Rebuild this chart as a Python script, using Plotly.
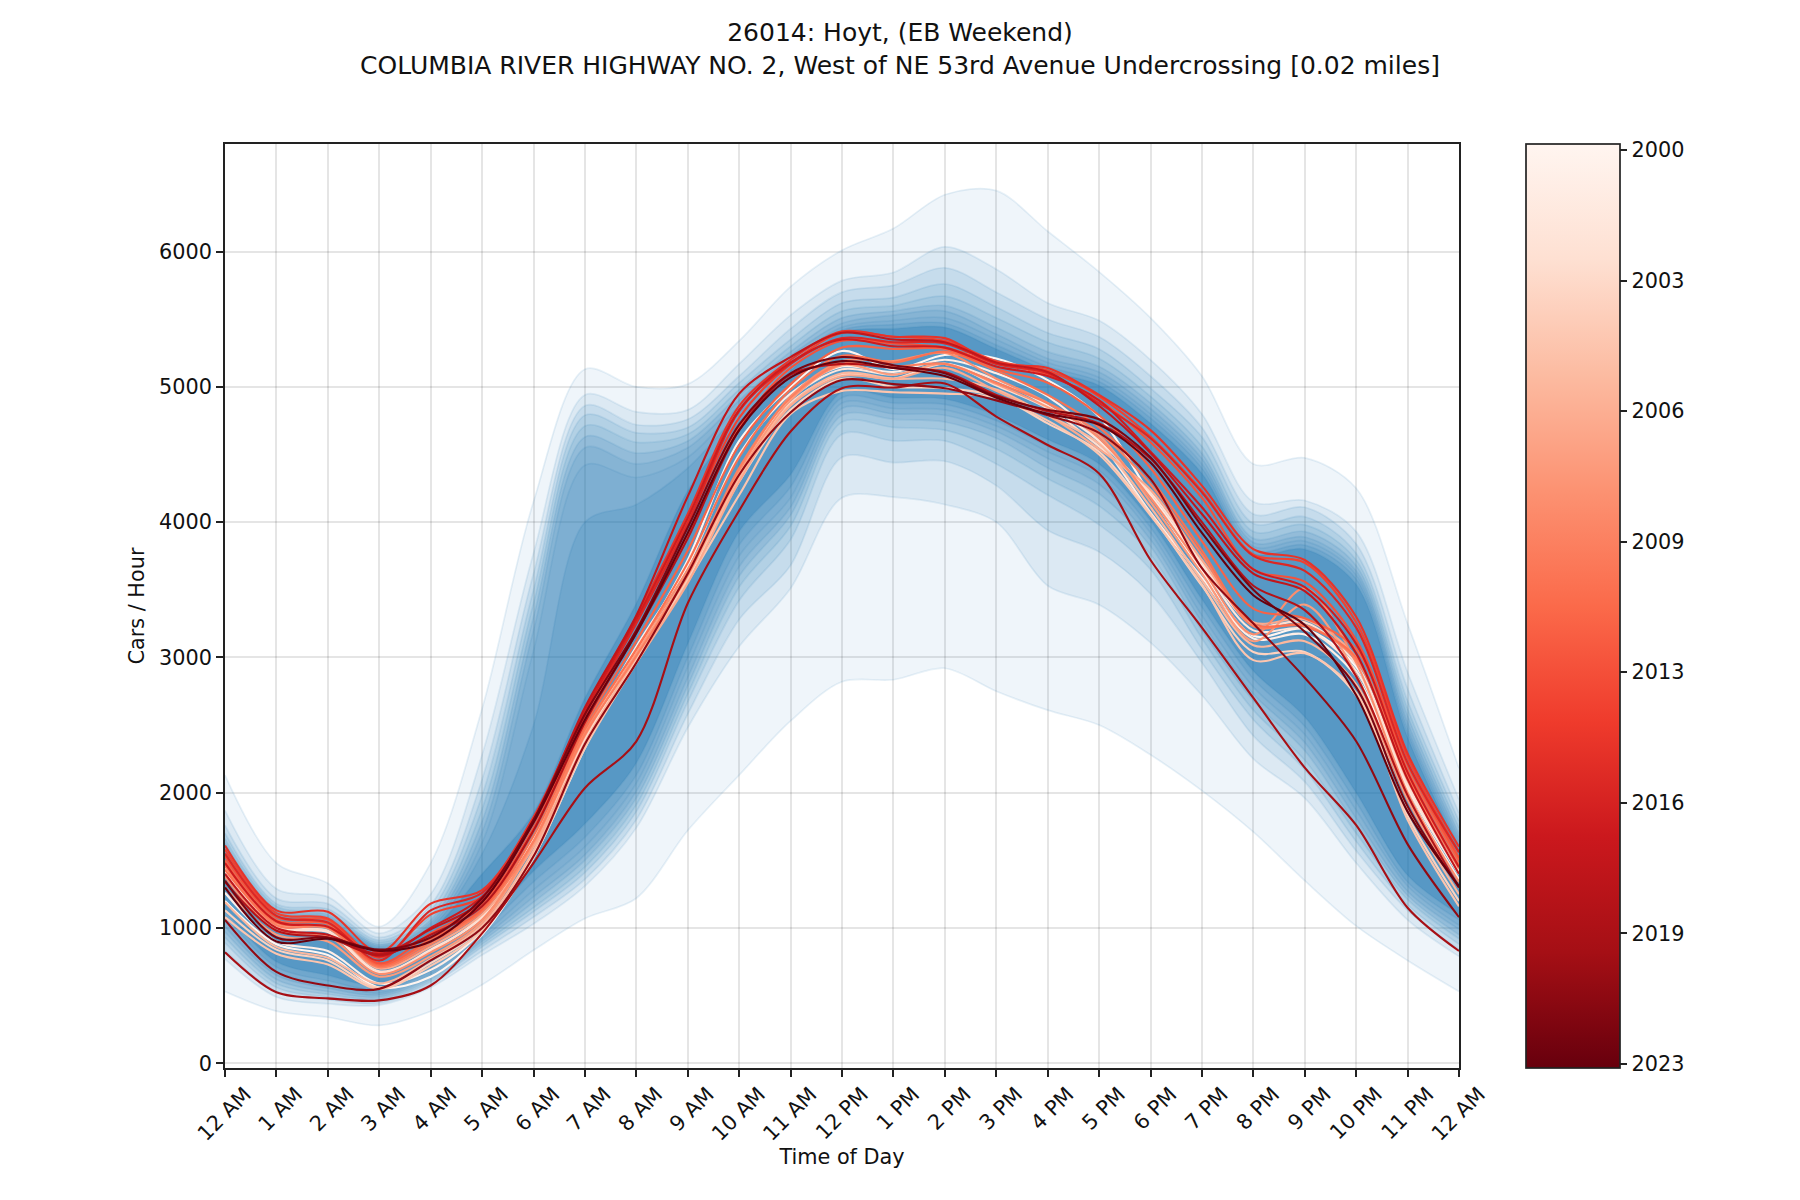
import plotly.graph_objects as go
from plotly.colors import sample_colorscale, sequential

hours = list(range(25))
hour_labels = ['12 AM', '1 AM', '2 AM', '3 AM', '4 AM', '5 AM', '6 AM', '7 AM', '8 AM', '9 AM', '10 AM', '11 AM',
               '12 PM', '1 PM', '2 PM', '3 PM', '4 PM', '5 PM', '6 PM', '7 PM', '8 PM', '9 PM', '10 PM', '11 PM', '12 AM']

# fan edges, outermost band first
upper_1 = [2130, 1480, 1330, 1010, 1480, 2620, 4150, 5130, 5000, 5020, 5340, 5740, 6010, 6170, 6420, 6450, 6150, 5850, 5510, 5080, 4430, 4475, 4250, 3250, 2180]
upper_2 = [1870, 1290, 1230, 960, 1250, 2280, 3770, 4940, 4815, 4830, 5170, 5530, 5785, 5845, 6035, 5870, 5620, 5490, 5200, 4800, 4150, 4160, 3930, 2890, 1950]
upper_3 = [1760, 1220, 1180, 930, 1170, 2100, 3620, 4860, 4720, 4760, 5080, 5430, 5700, 5750, 5880, 5700, 5500, 5370, 5080, 4700, 4060, 4110, 3840, 2770, 1850]
upper_4 = [1700, 1180, 1140, 910, 1130, 1980, 3500, 4790, 4660, 4700, 5030, 5350, 5620, 5660, 5760, 5590, 5400, 5280, 4990, 4630, 3990, 4040, 3770, 2680, 1790]
upper_5 = [1660, 1160, 1115, 895, 1090, 1880, 3400, 4710, 4590, 4650, 4980, 5300, 5560, 5600, 5670, 5510, 5330, 5210, 4930, 4560, 3930, 3980, 3720, 2620, 1740]
upper_6 = [1630, 1140, 1100, 880, 1060, 1790, 3300, 4630, 4510, 4600, 4940, 5260, 5510, 5560, 5600, 5440, 5260, 5150, 4880, 4510, 3880, 3930, 3680, 2570, 1700]
upper_7 = [1610, 1125, 1085, 870, 1040, 1710, 3200, 4550, 4430, 4550, 4900, 5230, 5470, 5530, 5560, 5390, 5210, 5110, 4840, 4470, 3850, 3890, 3640, 2520, 1670]
upper_8 = [1590, 1110, 1070, 860, 1020, 1630, 3050, 4420, 4330, 4480, 4860, 5190, 5440, 5490, 5510, 5350, 5180, 5070, 4800, 4430, 3820, 3860, 3610, 2480, 1640]
upper_9 = [1570, 1100, 1055, 850, 1000, 1550, 2500, 4000, 4130, 4400, 4810, 5160, 5420, 5460, 5470, 5310, 5150, 5040, 4770, 4400, 3790, 3830, 3580, 2450, 1610]
upper_10 = [1550, 1090, 1045, 840, 985, 1400, 1850, 2700, 3400, 4230, 4740, 5120, 5400, 5430, 5440, 5280, 5120, 5010, 4730, 4360, 3770, 3800, 3540, 2410, 1580]

lower_1 = [530, 385, 340, 280, 385, 580, 835, 1070, 1220, 1720, 2130, 2530, 2820, 2835, 2920, 2750, 2610, 2500, 2280, 2015, 1710, 1350, 1015, 760, 530]
lower_2 = [770, 490, 440, 430, 560, 800, 1030, 1310, 1740, 2480, 3080, 3510, 4180, 4185, 4130, 4000, 3530, 3390, 3110, 2720, 2250, 1960, 1480, 1060, 790]
lower_3 = [830, 530, 470, 445, 580, 830, 1080, 1360, 1800, 2580, 3280, 3680, 4480, 4440, 4450, 4270, 3940, 3780, 3470, 2960, 2420, 2080, 1570, 1130, 840]
lower_4 = [890, 560, 490, 460, 600, 860, 1120, 1410, 1860, 2670, 3420, 3870, 4650, 4600, 4600, 4430, 4200, 3980, 3650, 3060, 2540, 2170, 1640, 1170, 880]
lower_5 = [930, 590, 510, 475, 615, 880, 1150, 1450, 1910, 2730, 3520, 3970, 4740, 4700, 4680, 4540, 4320, 4120, 3760, 3140, 2610, 2240, 1700, 1210, 920]
lower_6 = [970, 620, 530, 490, 630, 900, 1190, 1500, 1960, 2790, 3600, 4050, 4790, 4760, 4740, 4620, 4400, 4210, 3820, 3200, 2680, 2310, 1760, 1240, 950]
lower_7 = [1010, 650, 555, 505, 645, 920, 1230, 1540, 2010, 2850, 3670, 4110, 4840, 4800, 4790, 4670, 4470, 4280, 3870, 3260, 2730, 2370, 1810, 1270, 990]
lower_8 = [1050, 680, 580, 520, 660, 945, 1280, 1600, 2070, 2930, 3750, 4180, 4880, 4840, 4830, 4710, 4520, 4340, 3920, 3310, 2780, 2430, 1870, 1310, 1020]
lower_9 = [1090, 710, 610, 540, 680, 975, 1340, 1670, 2130, 3000, 3830, 4260, 4920, 4880, 4870, 4750, 4560, 4380, 3960, 3370, 2840, 2490, 1930, 1340, 1060]
lower_10 = [1130, 750, 650, 570, 710, 1020, 1420, 1770, 2220, 3100, 3930, 4350, 4960, 4920, 4910, 4790, 4610, 4430, 4010, 3430, 2900, 2560, 2000, 1390, 1100]

band_alpha = [0.07, 0.09, 0.11, 0.115, 0.105, 0.12, 0.115, 0.07, 0.14, 0.3]

# one profile per year
y2000 = [1200, 880, 800, 560, 640, 950, 1520, 2330, 3040, 3720, 4600, 5000, 5265, 5130, 5235, 5210, 5050, 4780, 4200, 3640, 3160, 3210, 2930, 2050, 1400]
y2001 = [1260, 900, 830, 590, 690, 980, 1560, 2400, 3080, 3680, 4500, 4950, 5150, 5110, 5200, 5100, 4930, 4600, 4070, 3590, 3140, 3170, 2860, 2000, 1360]
y2002 = [1420, 1000, 970, 670, 840, 1080, 1660, 2460, 3040, 3620, 4360, 4910, 5130, 5090, 5170, 5050, 4860, 4600, 4200, 3680, 3200, 3210, 2900, 2030, 1400]
y2003 = [1450, 1010, 980, 680, 830, 1090, 1620, 2400, 2990, 3580, 4320, 4880, 5090, 5060, 5170, 5010, 4840, 4560, 4220, 3700, 3240, 3260, 2950, 2060, 1420]
y2004 = [1130, 840, 760, 560, 740, 1000, 1540, 2360, 2980, 3590, 4300, 4830, 5060, 5000, 4990, 4930, 4730, 4520, 4060, 3530, 3040, 3040, 2720, 1830, 1200]
y2005 = [1080, 810, 730, 550, 720, 980, 1520, 2330, 2960, 3560, 4200, 4800, 4970, 4960, 4950, 4920, 4750, 4500, 4050, 3540, 2980, 3030, 2740, 1800, 1160]
y2006 = [1190, 860, 780, 590, 770, 1020, 1570, 2370, 3000, 3600, 4330, 4870, 5100, 5060, 5060, 4980, 4790, 4580, 4110, 3570, 3090, 3120, 2800, 1890, 1250]
y2007 = [1480, 1030, 1000, 700, 860, 1100, 1600, 2360, 2960, 3550, 4300, 4860, 5080, 5060, 5140, 4970, 4790, 4540, 4240, 3720, 3260, 3280, 3000, 2090, 1460]
y2008 = [1300, 950, 900, 640, 790, 1040, 1620, 2420, 3030, 3620, 4350, 4900, 5160, 5090, 5170, 5020, 4850, 4640, 4150, 3620, 3120, 3390, 2870, 1950, 1300]
y2009 = [1380, 980, 940, 660, 820, 1060, 1640, 2450, 3060, 3650, 4380, 4930, 5190, 5190, 5250, 5060, 4880, 4620, 4180, 3660, 3170, 3510, 2960, 2000, 1340]
y2010 = [1460, 1020, 1000, 710, 880, 1120, 1640, 2430, 3010, 3610, 4400, 4920, 5170, 5150, 5170, 5030, 4880, 4660, 4280, 3760, 3230, 3240, 2980, 2110, 1440]
y2011 = [1430, 1040, 1010, 720, 900, 1130, 1680, 2470, 3060, 3700, 4480, 4980, 5230, 5180, 5260, 5120, 4940, 4700, 4320, 3790, 3250, 3230, 3000, 2130, 1470]
y2012 = [1500, 1060, 1030, 730, 920, 1140, 1720, 2500, 3120, 3790, 4570, 5020, 5290, 5280, 5280, 5130, 5030, 4790, 4400, 3860, 3360, 3290, 3060, 2170, 1500]
y2013 = [1530, 1080, 1060, 740, 960, 1180, 1740, 2540, 3200, 3910, 4700, 5140, 5340, 5320, 5290, 5170, 5090, 4900, 4590, 4180, 3650, 3560, 3130, 2210, 1520]
y2014 = [1580, 1110, 1070, 780, 1100, 1230, 1780, 2580, 3270, 4000, 4770, 5170, 5400, 5370, 5340, 5190, 5120, 4930, 4630, 4230, 3760, 3700, 3260, 2260, 1560]
y2015 = [1610, 1130, 1120, 820, 1180, 1280, 1820, 2610, 3300, 4060, 4860, 5200, 5410, 5370, 5360, 5170, 5140, 4940, 4680, 4270, 3800, 3720, 3300, 2290, 1600]
y2016 = [1550, 1090, 1040, 760, 1130, 1260, 1780, 2570, 3250, 3990, 4820, 5170, 5360, 5330, 5320, 5170, 5100, 4880, 4620, 4220, 3750, 3640, 3220, 2220, 1560]
y2017 = [1480, 1050, 1010, 790, 1000, 1230, 1800, 2600, 3280, 4030, 4830, 5180, 5350, 5300, 5290, 5150, 5080, 4900, 4520, 4110, 3650, 3520, 3100, 2150, 1450]
y2018 = [1400, 1000, 950, 810, 990, 1200, 1790, 2630, 3310, 4190, 4950, 5220, 5400, 5350, 5330, 5180, 5110, 4860, 4510, 4060, 3620, 3490, 3030, 2100, 1400]
y2019 = [1340, 980, 930, 800, 950, 1160, 1720, 2520, 3180, 3880, 4680, 5090, 5170, 5140, 5110, 4940, 4820, 4730, 4470, 4000, 3530, 3350, 2860, 1980, 1300]
y2020 = [820, 525, 480, 465, 575, 960, 1480, 2035, 2380, 3400, 4085, 4670, 4990, 4995, 5025, 4780, 4570, 4360, 3720, 3220, 2700, 2185, 1760, 1150, 830]
y2021 = [1060, 675, 575, 550, 760, 1000, 1530, 2360, 2960, 3620, 4350, 4810, 5050, 5020, 4990, 4900, 4790, 4660, 4320, 3660, 3250, 2850, 2380, 1620, 1080]
y2022 = [1350, 930, 930, 840, 930, 1220, 1800, 2580, 3200, 3960, 4720, 5100, 5220, 5160, 5100, 4930, 4830, 4760, 4480, 3970, 3500, 3190, 2780, 1900, 1300]
y2023 = [1300, 900, 920, 830, 900, 1190, 1780, 2540, 3180, 3920, 4680, 5070, 5190, 5140, 5080, 4920, 4800, 4720, 4440, 3920, 3460, 3240, 2720, 1860, 1310]

years = list(range(2000, 2024))
cbar_values = [2000, 2003.29, 2006.57, 2009.86, 2013.14, 2016.43, 2019.71, 2023]
cbar_labels = ['2000', '2003', '2006', '2009', '2013', '2016', '2019', '2023']

uppers = [upper_1, upper_2, upper_3, upper_4, upper_5, upper_6, upper_7, upper_8, upper_9, upper_10]
lowers = [lower_1, lower_2, lower_3, lower_4, lower_5, lower_6, lower_7, lower_8, lower_9, lower_10]
profiles = [y2000, y2001, y2002, y2003, y2004, y2005, y2006, y2007, y2008, y2009, y2010, y2011,
            y2012, y2013, y2014, y2015, y2016, y2017, y2018, y2019, y2020, y2021, y2022, y2023]

edge_line = dict(color='rgba(31,119,180,0.1)', width=1.7, shape='spline', smoothing=0.9)
fig = go.Figure()

for up, low, a in zip(uppers, lowers, band_alpha):
    fig.add_trace(go.Scatter(x=hours, y=up, mode='lines', line=edge_line, hoverinfo='skip', showlegend=False))
    fig.add_trace(go.Scatter(x=hours, y=low, mode='lines', line=edge_line, fill='tonexty',
                             fillcolor=f'rgba(31,119,180,{a})', hoverinfo='skip', showlegend=False))

year_colors = sample_colorscale(sequential.Reds, [(yr - 2000) / 23 for yr in years])
for yr, vals, c in zip(years, profiles, year_colors):
    fig.add_trace(go.Scatter(x=hours, y=vals, mode='lines', name=str(yr), showlegend=False,
                             line=dict(color=c, width=2.1, shape='spline', smoothing=0.9)))

# negative years so that the bar reads 2000 at the top, 2023 at the bottom
fig.add_trace(go.Scatter(
    x=[None, None], y=[None, None], mode='markers', showlegend=False, hoverinfo='skip',
    marker=dict(color=[-2000, -2023], cmin=-2023.1, cmax=-1999.85, colorscale=sequential.Reds_r,
                colorbar=dict(x=1.0543, y=0, xanchor='left', yanchor='bottom', xpad=0, ypad=0,
                              thickness=94, thicknessmode='pixels', len=1, lenmode='fraction',
                              outlinecolor='#222222', outlinewidth=1.7,
                              tickmode='array', tickvals=[-v for v in cbar_values], ticktext=cbar_labels,
                              ticks='outside', ticklen=7, tickwidth=1.7, tickcolor='#222222',
                              tickfont=dict(size=20.8, color='#111111')))))

axis_style = dict(showline=True, mirror=True, linecolor='#222222', linewidth=1.7, zeroline=False,
                  showgrid=True, gridcolor='rgba(0,0,0,0.1)', gridwidth=1.7,
                  ticks='outside', ticklen=7, tickwidth=1.7, tickcolor='#222222',
                  tickfont=dict(size=20.8, color='#111111'))

# the page has an 8px body margin, so the figure is a little under 1800x1200
fig.update_layout(
    width=1784, height=1184, template='none', paper_bgcolor='white', plot_bgcolor='white',
    font=dict(family='DejaVu Sans', color='#111111'),
    margin=dict(l=217, r=333, t=136, b=124, autoexpand=False),
    title=dict(text='26014: Hoyt, (EB Weekend)<br>COLUMBIA RIVER HIGHWAY NO. 2, West of NE 53rd Avenue Undercrossing [0.02 miles]',
               x=0.5, xref='container', xanchor='center', y=0.972, yref='container', yanchor='top',
               font=dict(size=25, color='#111111')),
    xaxis=dict(range=[0, 24], tickmode='array', tickvals=hours, ticktext=hour_labels, tickangle=-45,
               ticklabelshift=20, ticklabelstandoff=-3,
               title=dict(text='Time of Day', font=dict(size=20.8), standoff=4), **axis_style),
    yaxis=dict(range=[-35, 6795], tickmode='array', tickvals=[0, 1000, 2000, 3000, 4000, 5000, 6000],
               title=dict(text='Cars / Hour', font=dict(size=20.8), standoff=9), **axis_style),
)

fig.write_html("out.html")
